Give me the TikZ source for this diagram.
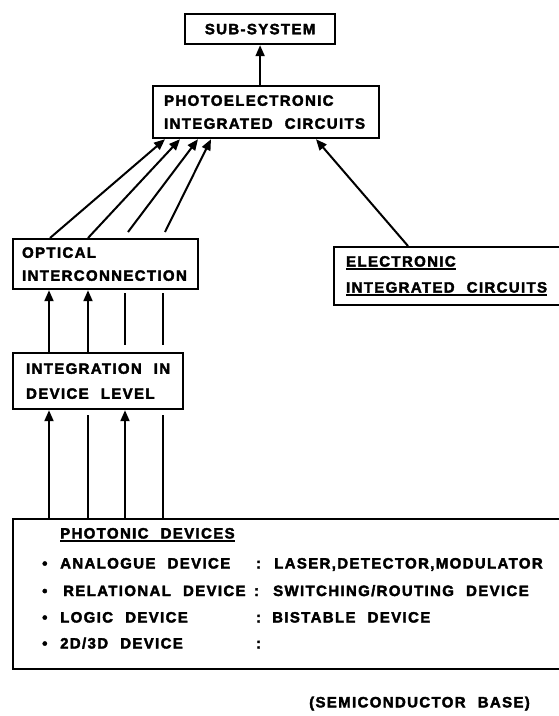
\documentclass[tikz,border=0pt]{standalone}
\usepackage{fontspec}
\setmainfont{Liberation Sans Bold}[LetterSpace=9,WordSpace=2.2,FakeBold=2.5]
\usetikzlibrary{arrows.meta}
\newcommand\myul[1]{\leavevmode\vtop{\hbox{#1}\kern1.6pt\hrule height 1.8pt}}
\begin{document}
\begin{tikzpicture}[x=1pt,y=-1pt,
  every node/.style={font=\fontsize{15}{18}\selectfont},
  box/.style={draw, line width=2.2pt, inner ysep=0pt, anchor=north west, align=left,
    execute at begin node={\spaceskip=0pt\xspaceskip=0pt\relax}},
  arr/.style={-{Triangle[length=11pt,width=9pt]}, line width=2pt},
  ln/.style={line width=2pt},
  txt/.style={anchor=base west, inner sep=0pt}]
\useasboundingbox (0,0) rectangle (559,716);

% boxes
\node[box, minimum width=150pt, minimum height=30pt, align=center, inner xsep=0pt] (sub) at (184,13) {SUB-SYSTEM};
\node[box, minimum width=226pt, minimum height=52pt, inner xsep=11pt, text width=204pt,
      font=\fontsize{15}{23}\selectfont] (pic) at (152,85) {PHOTOELECTRONIC\\INTEGRATED CIRCUITS};
\node[box, minimum width=185pt, minimum height=50pt, inner xsep=9pt, text width=167pt,
      font=\fontsize{15}{23}\selectfont] (opt) at (12,238) {OPTICAL\\INTERCONNECTION};
\node[box, minimum width=240pt, minimum height=58pt, inner xsep=12pt, text width=216pt,
      font=\fontsize{15}{26}\selectfont] (ele) at (333,246) {\myul{ELECTRONIC}\\\myul{INTEGRATED CIRCUITS}};
\node[box, minimum width=170pt, minimum height=56pt, inner xsep=13pt, text width=144pt,
      font=\fontsize{15}{25}\selectfont] (integ) at (12,352) {INTEGRATION IN\\DEVICE LEVEL};
\node[box, minimum width=565pt, minimum height=150pt, inner xsep=0pt] (phot) at (12,518) {};

% coordinates
\coordinate (v1) at (49,0);
\coordinate (v2) at (88,0);
\coordinate (v3) at (125,0);
\coordinate (v4) at (163,0);
\coordinate (d1) at (50,0);
\coordinate (d2) at (88,0);
\coordinate (p1) at (165,0);
\coordinate (p2) at (180,0);
\coordinate (p3) at (198,0);
\coordinate (p4) at (211,0);
\coordinate (p5) at (316,0);
\coordinate (e1) at (408,0);
\coordinate (s3) at (128,232);
\coordinate (s4) at (165,232);
\coordinate (g3) at (125,293);
\coordinate (h3) at (125,345);
\coordinate (g4) at (163,293);
\coordinate (h4) at (163,345);
\coordinate (k2) at (88,415);
\coordinate (k4) at (163,415);

% connectors
\draw[arr] (pic.north -| sub.south) -- (sub.south);
\draw[arr] (opt.north -| d1) -- (pic.south -| p1);
\draw[arr] (opt.north -| d2) -- (pic.south -| p2);
\draw[arr] (s3) -- (pic.south -| p3);
\draw[arr] (s4) -- (pic.south -| p4);
\draw[arr] (ele.north -| e1) -- (pic.south -| p5);

\draw[arr] (integ.north -| v1) -- (opt.south -| v1);
\draw[arr] (integ.north -| v2) -- (opt.south -| v2);
\draw[ln] (g3) -- (h3);
\draw[ln] (g4) -- (h4);

\draw[arr] (phot.north -| v1) -- (integ.south -| v1);
\draw[ln] (phot.north -| v2) -- (k2);
\draw[arr] (phot.north -| v3) -- (integ.south -| v3);
\draw[ln] (phot.north -| v4) -- (k4);

% photonic device text
\node[txt] (title) at (60,538.5) {\myul{PHOTONIC DEVICES}};
\node[txt] (b1) at (42,568.5) {\textbullet};
\node[txt] (b2) at (42,596) {\textbullet};
\node[txt] (b3) at (42,622.5) {\textbullet};
\node[txt] (b4) at (42,648.5) {\textbullet};
\node[txt] (l1) at (60,568.5) {ANALOGUE DEVICE};
\node[txt] (l2) at (63,596) {RELATIONAL DEVICE};
\node[txt] (l3) at (60,622.5) {LOGIC DEVICE};
\node[txt] (l4) at (60,648.5) {2D/3D DEVICE};
\node[txt] (c1) at (256,568.5) {:};
\node[txt] (c2) at (254,596) {:};
\node[txt] (c3) at (256,622.5) {:};
\node[txt] (c4) at (256,648.5) {:};
\node[txt] (r1) at (274,568.5) {LASER,DETECTOR,MODULATOR};
\node[txt] (r2) at (273,596) {SWITCHING/ROUTING DEVICE};
\node[txt] (r3) at (272,622.5) {BISTABLE DEVICE};

\node[txt] (base) at (309,707.4) {(SEMICONDUCTOR BASE)};
\end{tikzpicture}
\end{document}
